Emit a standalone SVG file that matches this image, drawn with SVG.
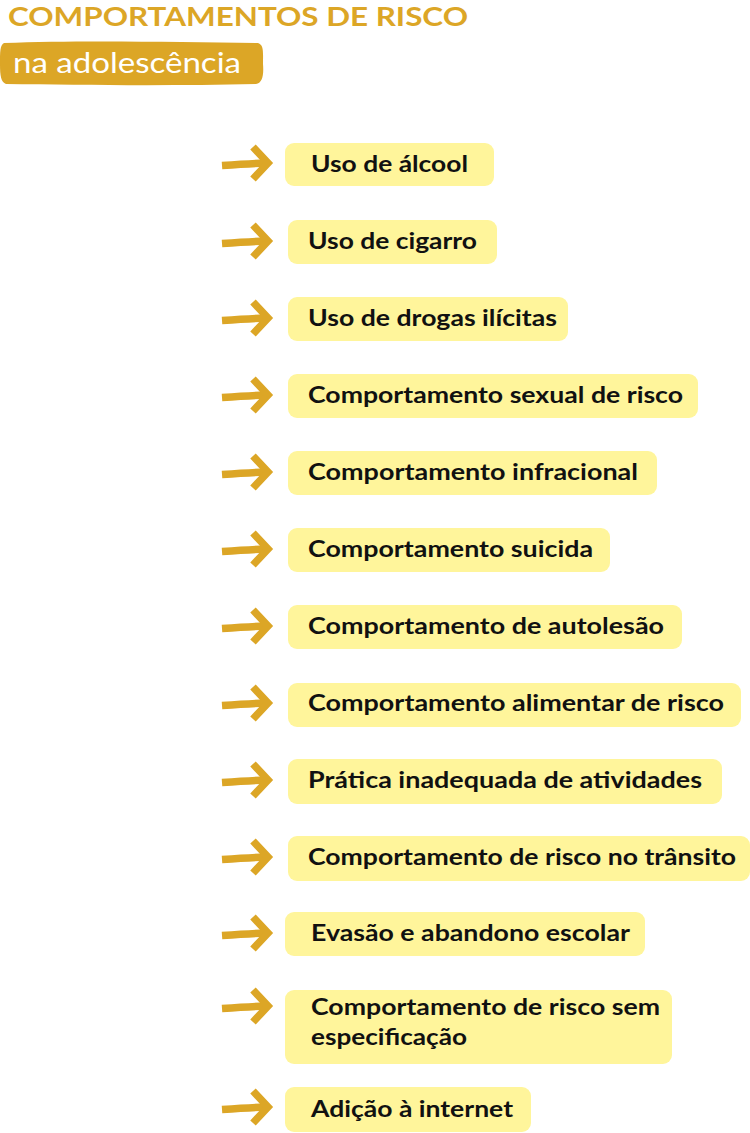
<svg xmlns="http://www.w3.org/2000/svg" width="750" height="1133" viewBox="0 0 750 1133">
<style>
.title{font-family:Lato,"Liberation Sans",sans-serif;font-weight:700;font-size:27px;fill:#DCA626}
.sub{font-family:Lato,"Liberation Sans",sans-serif;font-weight:400;font-size:29px;fill:#ffffff}
.box{fill:#FFF59B}
.lbl{font-family:Lato,"Liberation Sans",sans-serif;font-weight:700;font-size:22px;fill:#111111}
.arr{fill:none;stroke:#DCA626;stroke-width:7.5}
</style>
<defs>
<g id="arrow">
<path class="arr" d="M222,2.5 C236,1.5 250,0.5 266,0" stroke-linecap="butt"/>
<path class="arr" d="M253,-16 L268,0 L253,16" stroke-linejoin="miter"/>
</g>
</defs>
<rect width="750" height="1133" fill="#ffffff"/>
<g id="title">
<text class="title" x="8" y="26" textLength="460" lengthAdjust="spacingAndGlyphs">COMPORTAMENTOS DE RISCO</text>
<path d="M4,43 C80,40 180,42 258,43 C264,45 263,52 263,64 C264,76 262,83 256,84 C170,86 80,85 6,84 C1,82 0,76 0,64 C0,52 0,45 4,43 Z" fill="#DCA626"/>
<text class="sub" x="13" y="73" textLength="228" lengthAdjust="spacingAndGlyphs">na adolescência</text>
</g>
<g id="connectors">
<use href="#arrow" transform="translate(0,163)"/>
<use href="#arrow" transform="translate(0,241)"/>
<use href="#arrow" transform="translate(0,318)"/>
<use href="#arrow" transform="translate(0,395)"/>
<use href="#arrow" transform="translate(0,472)"/>
<use href="#arrow" transform="translate(0,549)"/>
<use href="#arrow" transform="translate(0,626)"/>
<use href="#arrow" transform="translate(0,703)"/>
<use href="#arrow" transform="translate(0,780)"/>
<use href="#arrow" transform="translate(0,857)"/>
<use href="#arrow" transform="translate(0,933)"/>
<use href="#arrow" transform="translate(0,1006)"/>
<use href="#arrow" transform="translate(0,1107)"/>
</g>
<g id="n1"><rect class="box" x="285" y="143" width="209" height="43" rx="9"/><text class="lbl" x="311" y="172" textLength="157" lengthAdjust="spacingAndGlyphs">Uso de álcool</text></g>
<g id="n2"><rect class="box" x="288" y="220" width="209" height="44" rx="9"/><text class="lbl" x="308" y="249" textLength="169" lengthAdjust="spacingAndGlyphs">Uso de cigarro</text></g>
<g id="n3"><rect class="box" x="288" y="297" width="280" height="44" rx="9"/><text class="lbl" x="308" y="326" textLength="249" lengthAdjust="spacingAndGlyphs">Uso de drogas ilícitas</text></g>
<g id="n4"><rect class="box" x="288" y="374" width="410" height="44" rx="9"/><text class="lbl" x="308" y="403" textLength="375" lengthAdjust="spacingAndGlyphs">Comportamento sexual de risco</text></g>
<g id="n5"><rect class="box" x="288" y="451" width="369" height="44" rx="9"/><text class="lbl" x="308" y="480" textLength="330" lengthAdjust="spacingAndGlyphs">Comportamento infracional</text></g>
<g id="n6"><rect class="box" x="288" y="528" width="322" height="44" rx="9"/><text class="lbl" x="308" y="557" textLength="285" lengthAdjust="spacingAndGlyphs">Comportamento suicida</text></g>
<g id="n7"><rect class="box" x="288" y="605" width="394" height="44" rx="9"/><text class="lbl" x="308" y="634" textLength="356" lengthAdjust="spacingAndGlyphs">Comportamento de autolesão</text></g>
<g id="n8"><rect class="box" x="288" y="683" width="453" height="44" rx="9"/><text class="lbl" x="308" y="711" textLength="416" lengthAdjust="spacingAndGlyphs">Comportamento alimentar de risco</text></g>
<g id="n9"><rect class="box" x="288" y="759" width="434" height="45" rx="9"/><text class="lbl" x="308" y="788" textLength="394" lengthAdjust="spacingAndGlyphs">Prática inadequada de atividades</text></g>
<g id="n10"><rect class="box" x="288" y="836" width="462" height="45" rx="9"/><text class="lbl" x="308" y="865" textLength="428" lengthAdjust="spacingAndGlyphs">Comportamento de risco no trânsito</text></g>
<g id="n11"><rect class="box" x="285" y="912" width="360" height="44" rx="9"/><text class="lbl" x="311" y="941" textLength="319" lengthAdjust="spacingAndGlyphs">Evasão e abandono escolar</text></g>
<g id="n12"><rect class="box" x="285" y="990" width="387" height="74" rx="9"/><text class="lbl" x="311" y="1015" textLength="349" lengthAdjust="spacingAndGlyphs">Comportamento de risco sem</text><text class="lbl" x="311" y="1045" textLength="156" lengthAdjust="spacingAndGlyphs">especificação</text></g>
<g id="n13"><rect class="box" x="285" y="1087" width="246" height="45" rx="9"/><text class="lbl" x="311" y="1117" textLength="202" lengthAdjust="spacingAndGlyphs">Adição à internet</text></g>
</svg>
